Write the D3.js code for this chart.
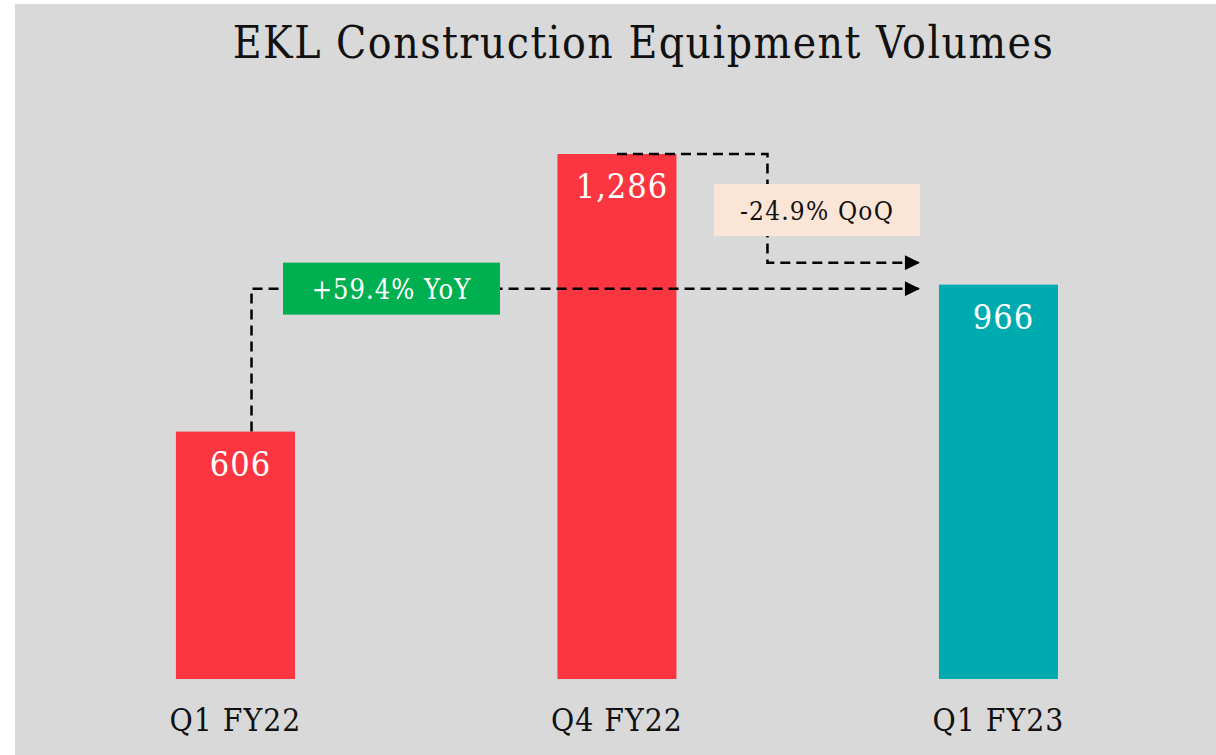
<!DOCTYPE html>
<html>
<head>
<meta charset="utf-8">
<script src="https://cdn.jsdelivr.net/npm/d3@7"></script>
<style>
  html, body { margin: 0; padding: 0; background: #ffffff; }
  svg { display: block; }
  text { font-family: "DejaVu Serif Condensed", "DejaVu Serif", serif; font-stretch: condensed; }
</style>
</head>
<body>
<svg id="chart" width="1216" height="755"></svg>
<script>
// ---- data ----
const title = "EKL Construction Equipment Volumes";
const categories = ["Q1 FY22", "Q4 FY22", "Q1 FY23"];
const values = [606, 1286, 966];
const barColors = ["#fc3640", "#fc3640", "#00abb0"];
const yoyLabel = "+59.4% YoY";
const qoqLabel = "-24.9% QoQ";

// ---- layout ----
const W = 1216, H = 755;
const svg = d3.select("#chart");

svg.append("rect").attr("x", 15).attr("y", 4).attr("width", W - 15).attr("height", H - 4)
  .attr("fill", "#d9d9d9");

const x = d3.scaleBand().domain(categories).range([44.7, 1189.2])
  .paddingInner(0.688).paddingOuter(0.344);
const y = d3.scaleLinear().domain([0, 1286]).range([679, 154]);
const fmt = d3.format(",");

// defs: arrow marker
svg.append("defs").append("marker")
  .attr("id", "arrow").attr("viewBox", "0 0 10 10")
  .attr("refX", 10).attr("refY", 5)
  .attr("markerWidth", 16).attr("markerHeight", 15)
  .attr("markerUnits", "userSpaceOnUse")
  .attr("orient", "auto")
  .append("path").attr("d", "M0,0 L10,5 L0,10 Z").attr("fill", "#000");

// title
svg.append("text").attr("x", 643.5).attr("y", 58)
  .attr("text-anchor", "middle").attr("font-size", 44).attr("letter-spacing", 1.5)
  .attr("fill", "#111").text(title);

// bars
svg.selectAll("rect.bar").data(values).join("rect").attr("class", "bar")
  .attr("x", (d, i) => x(categories[i]))
  .attr("y", d => y(d))
  .attr("width", x.bandwidth())
  .attr("height", d => y(0) - y(d))
  .attr("fill", (d, i) => barColors[i]);

// value labels
svg.selectAll("text.val").data(values).join("text").attr("class", "val")
  .attr("x", (d, i) => x(categories[i]) + x.bandwidth() / 2 + 5)
  .attr("y", d => y(d) + 44)
  .attr("text-anchor", "middle").attr("font-size", 34).attr("letter-spacing", 1)
  .attr("fill", "#fff").text(d => fmt(d));

// category axis labels
svg.selectAll("text.cat").data(categories).join("text").attr("class", "cat")
  .attr("x", d => x(d) + x.bandwidth() / 2)
  .attr("y", 731)
  .attr("text-anchor", "middle").attr("font-size", 31.5).attr("letter-spacing", 1)
  .attr("fill", "#111").text(d => d);

// ---- annotations ----
const dash = "10,6";
const c0 = x(categories[0]), c1 = x(categories[1]), c2 = x(categories[2]);
const bw = x.bandwidth();

// YoY path: from top of bar 1 up, then right to bar 3
const yoyY = y(values[2]) + 4;
const yoyX0 = c0 + bw * 0.635;
const arrowX = c2 - 19;
svg.append("path")
  .attr("d", `M${yoyX0},${y(values[0])} L${yoyX0},${yoyY} L${arrowX},${yoyY}`)
  .attr("fill", "none").attr("stroke", "#000").attr("stroke-width", 2.5)
  .attr("stroke-dasharray", dash).attr("marker-end", "url(#arrow)");

// QoQ path: from top of bar 2 right, down, then right to bar 3
const qoqX = c1 + bw + 91;
const qoqY2 = y(values[2]) - 22;
svg.append("path")
  .attr("d", `M${c1 + bw / 2},${y(values[1])} L${qoqX},${y(values[1])} L${qoqX},${qoqY2} L${arrowX},${qoqY2}`)
  .attr("fill", "none").attr("stroke", "#000").attr("stroke-width", 2.5)
  .attr("stroke-dasharray", dash).attr("marker-end", "url(#arrow)");

// YoY box
const yoyBox = { cx: 391.5, cy: yoyY, w: 217, h: 52 };
svg.append("rect").attr("x", yoyBox.cx - yoyBox.w / 2).attr("y", yoyBox.cy - yoyBox.h / 2)
  .attr("width", yoyBox.w).attr("height", yoyBox.h).attr("fill", "#00b050");
svg.append("text").attr("x", yoyBox.cx).attr("y", yoyBox.cy + 10)
  .attr("text-anchor", "middle").attr("font-size", 27).attr("letter-spacing", 1)
  .attr("fill", "#fff").text(yoyLabel);

// QoQ box
const qoqBox = { cx: 817, cy: 210, w: 206, h: 52 };
svg.append("rect").attr("x", qoqBox.cx - qoqBox.w / 2).attr("y", qoqBox.cy - qoqBox.h / 2)
  .attr("width", qoqBox.w).attr("height", qoqBox.h).attr("fill", "#fbe5d6");
svg.append("text").attr("x", qoqBox.cx).attr("y", qoqBox.cy + 10)
  .attr("text-anchor", "middle").attr("font-size", 26).attr("letter-spacing", 1.2)
  .attr("fill", "#111").text(qoqLabel);
</script>
</body>
</html>
